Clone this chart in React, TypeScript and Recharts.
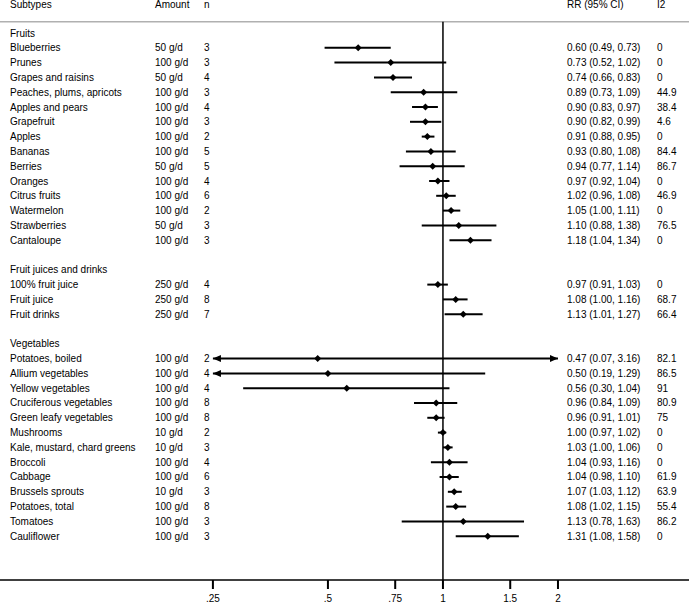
import {
  ComposedChart,
  Scatter,
  XAxis,
  YAxis,
  ReferenceLine,
} from "recharts";

// Fruits
const fruitNames = [
  "Blueberries", "Prunes", "Grapes and raisins", "Peaches, plums, apricots",
  "Apples and pears", "Grapefruit", "Apples", "Bananas", "Berries",
  "Oranges", "Citrus fruits", "Watermelon", "Strawberries", "Cantaloupe",
];
const fruitAmounts = [
  "50 g/d", "100 g/d", "50 g/d", "100 g/d", "100 g/d", "100 g/d", "100 g/d",
  "100 g/d", "50 g/d", "100 g/d", "100 g/d", "100 g/d", "50 g/d", "100 g/d",
];
const fruitN = [3, 3, 4, 3, 4, 3, 2, 5, 5, 4, 6, 2, 3, 3];
const fruitRR = [0.6, 0.73, 0.74, 0.89, 0.9, 0.9, 0.91, 0.93, 0.94, 0.97, 1.02, 1.05, 1.1, 1.18];
const fruitLo = [0.49, 0.52, 0.66, 0.73, 0.83, 0.82, 0.88, 0.8, 0.77, 0.92, 0.96, 1.0, 0.88, 1.04];
const fruitHi = [0.73, 1.02, 0.83, 1.09, 0.97, 0.99, 0.95, 1.08, 1.14, 1.04, 1.08, 1.11, 1.38, 1.34];
const fruitI2 = [0, 0, 0, 44.9, 38.4, 4.6, 0, 84.4, 86.7, 0, 46.9, 0, 76.5, 0];

// Fruit juices and drinks
const juiceNames = ["100% fruit juice", "Fruit juice", "Fruit drinks"];
const juiceAmounts = ["250 g/d", "250 g/d", "250 g/d"];
const juiceN = [4, 8, 7];
const juiceRR = [0.97, 1.08, 1.13];
const juiceLo = [0.91, 1.0, 1.01];
const juiceHi = [1.03, 1.16, 1.27];
const juiceI2 = [0, 68.7, 66.4];

// Vegetables
const vegNames = [
  "Potatoes, boiled", "Allium vegetables", "Yellow vegetables",
  "Cruciferous vegetables", "Green leafy vegetables", "Mushrooms",
  "Kale, mustard, chard greens", "Broccoli", "Cabbage", "Brussels sprouts",
  "Potatoes, total", "Tomatoes", "Cauliflower",
];
const vegAmounts = [
  "100 g/d", "100 g/d", "100 g/d", "100 g/d", "100 g/d", "10 g/d", "10 g/d",
  "100 g/d", "100 g/d", "10 g/d", "100 g/d", "100 g/d", "100 g/d",
];
const vegN = [2, 4, 4, 8, 8, 2, 3, 4, 6, 3, 8, 3, 3];
const vegRR = [0.47, 0.5, 0.56, 0.96, 0.96, 1.0, 1.03, 1.04, 1.04, 1.07, 1.08, 1.13, 1.31];
const vegLo = [0.07, 0.19, 0.3, 0.84, 0.91, 0.97, 1.0, 0.93, 0.98, 1.03, 1.02, 0.78, 1.08];
const vegHi = [3.16, 1.29, 1.04, 1.09, 1.01, 1.02, 1.06, 1.16, 1.1, 1.12, 1.15, 1.63, 1.58];
const vegI2 = [82.1, 86.5, 91, 80.9, 75, 0, 0, 0, 61.9, 63.9, 55.4, 86.2, 0];

const headers = ["Subtypes", "Amount", "n", "RR (95% CI)", "I2"];
const xTicks = [0.25, 0.5, 0.75, 1, 1.5, 2];
const plotMin = 0.25;
const plotMax = 2;

type Row = {
  row: number;
  label: string;
  amount?: string;
  n?: number;
  rr?: number;
  lo?: number;
  hi?: number;
  i2?: number;
};

const groups = [
  { title: "Fruits", names: fruitNames, amounts: fruitAmounts, ns: fruitN, rr: fruitRR, lo: fruitLo, hi: fruitHi, i2: fruitI2 },
  { title: "Fruit juices and drinks", names: juiceNames, amounts: juiceAmounts, ns: juiceN, rr: juiceRR, lo: juiceLo, hi: juiceHi, i2: juiceI2 },
  { title: "Vegetables", names: vegNames, amounts: vegAmounts, ns: vegN, rr: vegRR, lo: vegLo, hi: vegHi, i2: vegI2 },
];

const HEADER_ROW = -1.9;
const RULE_ROW = -0.76;
const Y_MIN = -2.23;
const Y_MAX = 36.96;

const rows: Row[] = [];
let idx = 0;
groups.forEach((g, gi) => {
  if (gi > 0) idx++; // blank line between groups
  rows.push({ row: idx++, label: g.title });
  g.names.forEach((name, i) => {
    rows.push({
      row: idx++,
      label: name,
      amount: g.amounts[i],
      n: g.ns[i],
      rr: g.rr[i],
      lo: g.lo[i],
      hi: g.hi[i],
      i2: g.i2[i],
    });
  });
});

const estimates = rows
  .filter((r) => r.rr !== undefined)
  .map((r) => ({ x: r.rr as number, y: r.row }));

// text rows are anchored on the y scale; x is just an in-domain placeholder
const textRows = [
  { x: 1, y: HEADER_ROW, header: true, r: null as Row | null },
  ...rows.map((r) => ({ x: 1, y: r.row, header: false, r })),
];

const fmt = (v: number) => v.toFixed(2);
const textStyle = { fontSize: 10, fill: "#000" };

const COL_LABEL = 10;
const COL_AMOUNT = 155;
const COL_N = 204;
const COL_RR = 567;
const COL_I2 = 657;

const RowText = (props: any) => {
  const { cy, payload } = props;
  const y = cy;
  if (payload.header) {
    const cols = [COL_LABEL, COL_AMOUNT, COL_N, COL_RR, COL_I2];
    return (
      <g>
        {headers.map((h, i) => (
          <text key={h} x={cols[i]} y={y} dy="0.35em" {...textStyle}>{h}</text>
        ))}
      </g>
    );
  }
  const r: Row = payload.r;
  return (
    <g>
      <text x={COL_LABEL} y={y} dy="0.35em" {...textStyle}>{r.label}</text>
      {r.amount && (
        <text x={COL_AMOUNT} y={y} dy="0.35em" {...textStyle}>{r.amount}</text>
      )}
      {r.n !== undefined && (
        <text x={COL_N} y={y} dy="0.35em" {...textStyle}>{r.n}</text>
      )}
      {r.rr !== undefined && (
        <text x={COL_RR} y={y} dy="0.35em" {...textStyle}>
          {`${fmt(r.rr)} (${fmt(r.lo as number)}, ${fmt(r.hi as number)})`}
        </text>
      )}
      {r.i2 !== undefined && (
        <text x={COL_I2} y={y} dy="0.35em" {...textStyle}>{String(r.i2)}</text>
      )}
    </g>
  );
};

const ciShape = (leftArrow: boolean, rightArrow: boolean) => (p: any) => {
  const { x1, y1, x2, y2 } = p;
  const ah = 8;
  const aw = 3.5;
  return (
    <g>
      <line x1={x1} y1={y1} x2={x2} y2={y2} stroke="#000" strokeWidth={2} />
      {leftArrow && (
        <polygon
          points={`${x1},${y1} ${x1 + ah},${y1 - aw} ${x1 + ah},${y1 + aw}`}
          fill="#000"
        />
      )}
      {rightArrow && (
        <polygon
          points={`${x2},${y2} ${x2 - ah},${y2 - aw} ${x2 - ah},${y2 + aw}`}
          fill="#000"
        />
      )}
    </g>
  );
};

const Diamond = (p: any) => {
  const { cx, cy } = p;
  return (
    <polygon
      points={`${cx - 3.5},${cy} ${cx},${cy - 3.5} ${cx + 3.5},${cy} ${cx},${cy + 3.5}`}
      fill="#000"
    />
  );
};

const tickLabel = (v: number) => (v < 1 ? String(v).replace(/^0/, "") : String(v));

// y given by recharts = axis line + tickSize(6) + tickMargin(2)
const XTick = (props: any) => {
  const { x, y, payload } = props;
  return (
    <g>
      <rect x={x - 1} y={y - 8} width={2} height={9} fill="#000" />
      <text x={x} y={y + 10} dy="0.35em" textAnchor="middle" {...textStyle}>
        {tickLabel(payload.value)}
      </text>
    </g>
  );
};

const App = () => {
  return (
    <div style={{ position: "absolute", left: 0, top: 0, fontFamily: "'Liberation Sans', Arial, sans-serif" }}>
      <ComposedChart
        width={689}
        height={603}
        margin={{ top: 0, right: 0, left: 0, bottom: 0 }}
      >
        <XAxis
          type="number"
          dataKey="x"
          scale="log"
          domain={[0.0693, 4.405]}
          allowDataOverflow
          ticks={xTicks}
          interval={0}
          tick={<XTick />}
          tickLine={false}
          height={23}
          axisLine={{ stroke: "#000", strokeWidth: 1.5 }}
        />
        <YAxis
          type="number"
          dataKey="y"
          domain={[Y_MIN, Y_MAX]}
          allowDataOverflow
          reversed
          width={0}
          hide
        />
        <ReferenceLine y={RULE_ROW} stroke="#b0b0b0" strokeWidth={1.5} />
        <ReferenceLine
          segment={[{ x: 1, y: RULE_ROW }, { x: 1, y: Y_MAX }]}
          stroke="#000"
          strokeWidth={1.5}
        />
        {rows
          .filter((r) => r.rr !== undefined)
          .map((r) => {
            const lo = Math.max(r.lo as number, plotMin);
            const hi = Math.min(r.hi as number, plotMax);
            return (
              <ReferenceLine
                key={r.row}
                segment={[{ x: lo, y: r.row }, { x: hi, y: r.row }]}
                shape={ciShape((r.lo as number) < plotMin, (r.hi as number) > plotMax)}
              />
            );
          })}
        <Scatter data={estimates} shape={<Diamond />} isAnimationActive={false} />
        <Scatter data={textRows} shape={<RowText />} isAnimationActive={false} />
      </ComposedChart>
    </div>
  );
};

export default App;
